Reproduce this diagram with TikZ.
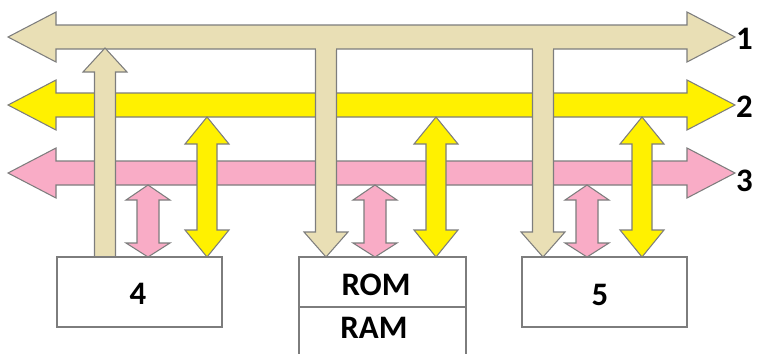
\documentclass[tikz,border=0pt]{standalone}
\usepackage{fontspec}
\setmainfont{Carlito}
\usepackage{xcolor}
\usetikzlibrary{fit}
\definecolor{busTan}{RGB}{233,223,181}
\definecolor{busYellow}{RGB}{255,241,0}
\definecolor{busPink}{RGB}{249,172,198}
\definecolor{edgeGray}{RGB}{125,125,125}

\begin{document}
\begin{tikzpicture}[x=0.03cm, y=-0.03cm, line join=miter,
  outline/.style={draw=edgeGray, line width=0.9pt},
  unitbox/.style={outline, fill=white, inner sep=0pt},
  lbl/.style={inner sep=0pt, font=\fontsize{28}{32}\selectfont\bfseries}]
\useasboundingbox (0,0) rectangle (759,353);
\clip (0,0) rectangle (759,353);
% the three buses
\foreach \y/\ly/\col/\name in {37/39/busTan/1, 105/107/busYellow/2, 173/181/busPink/3}{
  \filldraw[outline, fill=\col] (8,\y) -- (56,{\y-25}) -- (56,{\y-12}) -- (687,{\y-12})
    -- (687,{\y-25}) -- (735,\y) -- (687,{\y+25}) -- (687,{\y+12}) -- (56,{\y+12})
    -- (56,{\y+25}) -- cycle;
  \node[lbl, anchor=west] (bus\name) at (736,\ly) {\name};
}
% tan up into bus 1
\filldraw[outline, fill=busTan] (94.5,257) -- (94.5,72) -- (83,72) -- (105,48)
  -- (127,72) -- (115.5,72) -- (115.5,257);
% tan down from bus 1
\foreach \x in {326,543}{
  \filldraw[outline, fill=busTan] ({\x-10.5},49) -- ({\x-10.5},232) -- ({\x-22},232)
    -- (\x,257) -- ({\x+22},232) -- ({\x+10.5},232) -- ({\x+10.5},49);
  \fill[busTan] ({\x-10.1},44) rectangle ({\x+10.1},50);
}
% yellow both ways
\foreach \x in {207,436,642}{
  \filldraw[outline, fill=busYellow] (\x,117) -- ({\x+22},144) -- ({\x+10},144)
    -- ({\x+10},230) -- ({\x+22},230) -- (\x,257) -- ({\x-22},230) -- ({\x-10},230)
    -- ({\x-10},144) -- ({\x-22},144) -- cycle;
}
% pink both ways
\foreach \x in {148,375,587}{
  \filldraw[outline, fill=busPink] (\x,185) -- ({\x+22},200) -- ({\x+11},200)
    -- ({\x+11},243) -- ({\x+22},243) -- (\x,257) -- ({\x-22},243) -- ({\x-11},243)
    -- ({\x-11},200) -- ({\x-22},200) -- cycle;
}
% units
\node[unitbox, fit={(57,257)(222,327)}] (box4) {};
\node[unitbox, fit={(299,257)(466,307)}] (rom) {};
\node[unitbox, fit={(299,307)(466,365)}] (ram) {};
\node[unitbox, fit={(522,257)(687,327)}] (box5) {};
\node[lbl] (txt4) at (138,294) {4};
\node[lbl] (txtrom) at (376,285) {ROM};
\node[lbl] (txtram) at (374,328) {RAM};
\node[lbl] (txt5) at (600,295) {5};
\end{tikzpicture}
\end{document}
